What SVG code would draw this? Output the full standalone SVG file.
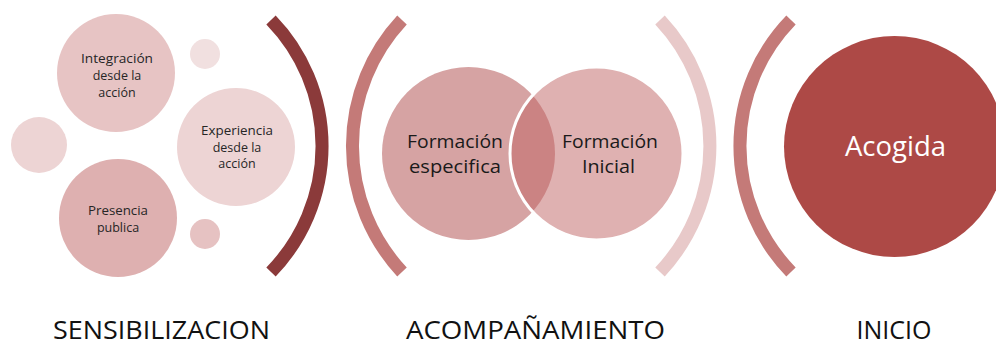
<svg xmlns="http://www.w3.org/2000/svg" width="996" height="341" viewBox="0 0 996 341">
<style>
text{font-family:"Open Sans","Noto Sans","Liberation Sans",sans-serif;text-anchor:middle}
.s{font-size:12.5px;fill:#262626}
.m{font-size:18px;fill:#1a1a1a}
.h{font-size:25px;fill:#111}
.arc{fill:none;stroke-width:13;stroke-linecap:butt}
</style>
<rect width="996" height="341" fill="#ffffff"/>
<g id="arcs">
<path class="arc" stroke="#8B3A3A" d="M271,20 A181,181 0 0 1 271,272"/>
<path class="arc" stroke="#C47A78" d="M402,20 A185,185 0 0 0 402,272"/>
<path class="arc" stroke="#E8C9C9" d="M660,20 A184,184 0 0 1 660,272"/>
<path class="arc" stroke="#C47A78" d="M791,20 A181,181 0 0 0 791,272"/>
</g>
<g id="dot-top"><circle cx="205" cy="54" r="15" fill="#F1E0E0"/></g>
<g id="dot-left"><circle cx="39" cy="145" r="28" fill="#EDD4D4"/></g>
<g id="dot-bottom"><circle cx="205" cy="234" r="15" fill="#E6C2C2"/></g>
<g id="integracion">
<circle cx="116" cy="73" r="59" fill="#E7C4C4"/>
<text class="s" x="117" y="63" textLength="72" lengthAdjust="spacingAndGlyphs">Integración</text>
<text class="s" x="117" y="80">desde la</text>
<text class="s" x="117" y="97">acción</text>
</g>
<g id="experiencia">
<circle cx="236" cy="147" r="59" fill="#EDD4D4"/>
<text class="s" x="237" y="135" textLength="72" lengthAdjust="spacingAndGlyphs">Experiencia</text>
<text class="s" x="237" y="152">desde la</text>
<text class="s" x="237" y="168">acción</text>
</g>
<g id="presencia">
<circle cx="118" cy="218" r="59" fill="#DEB0B0"/>
<text class="s" x="118" y="215" textLength="60" lengthAdjust="spacingAndGlyphs">Presencia</text>
<text class="s" x="118" y="232">publica</text>
</g>
<g id="formacion-especifica">
<circle cx="468.5" cy="153.5" r="86.5" fill="#D6A3A3"/>
</g>
<g id="formacion-inicial">
<circle cx="596.5" cy="153.5" r="86.5" fill="#BF6363" fill-opacity="0.5" stroke="#ffffff" stroke-width="3"/>
</g>
<g id="labels-formacion">
<text class="m" x="455" y="148" textLength="96" lengthAdjust="spacingAndGlyphs">Formación</text>
<text class="m" x="455" y="173" textLength="92" lengthAdjust="spacingAndGlyphs">especifica</text>
<text class="m" x="610" y="148" textLength="96" lengthAdjust="spacingAndGlyphs">Formación</text>
<text class="m" x="608.5" y="173" textLength="53" lengthAdjust="spacingAndGlyphs">Inicial</text>
</g>
<g id="acogida">
<circle cx="894.5" cy="146.5" r="110.5" fill="#AD4946"/>
<text x="895.5" y="156" font-size="28" fill="#ffffff" textLength="101" lengthAdjust="spacingAndGlyphs">Acogida</text>
</g>
<g id="stage-labels">
<text class="h" x="161.5" y="339" textLength="217" lengthAdjust="spacingAndGlyphs">SENSIBILIZACION</text>
<text class="h" x="535.5" y="339" textLength="259" lengthAdjust="spacingAndGlyphs">ACOMPAÑAMIENTO</text>
<text class="h" x="894" y="339" textLength="75" lengthAdjust="spacingAndGlyphs">INICIO</text>
</g>
</svg>
